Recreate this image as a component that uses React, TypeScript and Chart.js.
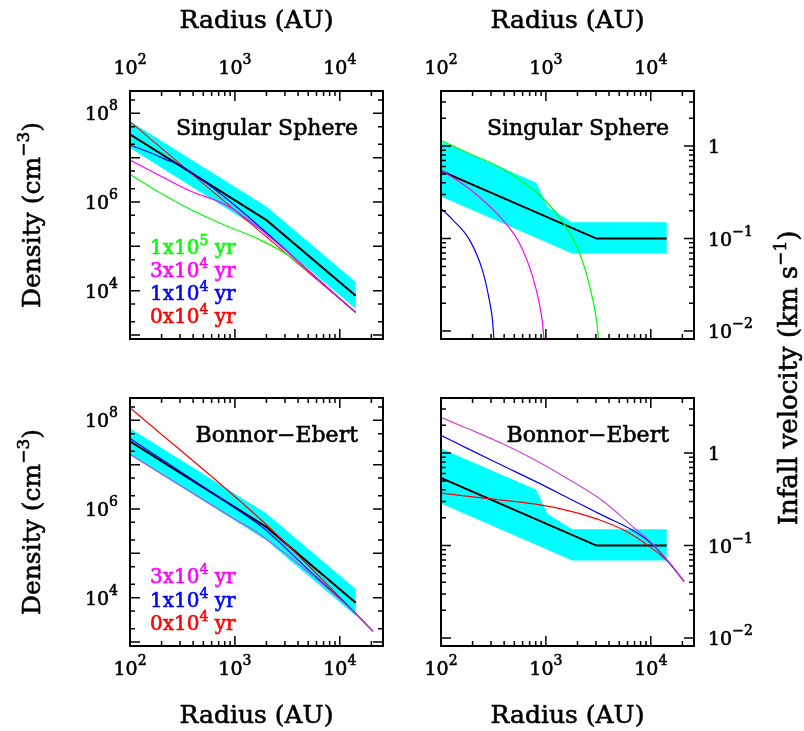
import React, { useEffect, useRef } from 'react';
import { Chart, registerables } from 'chart.js';
Chart.register(...registerables);

// ---------- axes ----------
const radiusMin = 100;
const radiusMax = 25820;
const densityMin = 815;
const densityMax = 3.18e8;
const velocityMin = 0.0082;
const velocityMax = 3.94;

const radiusTicks = [100, 200, 300, 400, 500, 600, 700, 800, 900, 1000, 2000, 3000, 4000, 5000, 6000, 7000, 8000, 9000, 10000, 20000];
const radiusTickLabels: [number, string, string][] = [[100, '10', '2'], [1000, '10', '3'], [10000, '10', '4']];
const densityTicks = [1e3, 2e3, 5e3, 1e4, 2e4, 5e4, 1e5, 2e5, 5e5, 1e6, 2e6, 5e6, 1e7, 2e7, 5e7, 1e8, 2e8];
const densityTickLabels: [number, string, string][] = [[1e4, '10', '4'], [1e6, '10', '6'], [1e8, '10', '8']];
const velocityTicks = [0.01, 0.02, 0.03, 0.04, 0.05, 0.06, 0.07, 0.08, 0.09, 0.1, 0.2, 0.3, 0.4, 0.5, 0.6, 0.7, 0.8, 0.9, 1, 2, 3];
const velocityTickLabels: [number, string, string][] = [[0.01, '10', '\u22122'], [0.1, '10', '\u22121'], [1, '1', '']];

// ---------- observed (black line + cyan range) ----------
const obsDensityRadius = [100, 2000, 14200];
const obsDensity = [3.35e7, 3.9e5, 7.7e3];
const obsDensityHigh = [6.6e7, 7.9e5, 1.58e4];
const obsDensityLow = [1.65e7, 1.95e5, 3.9e3];

const obsVelocityRadius = [100, 3040, 14200];
const obsVelocity = [0.54, 0.1, 0.1];
const obsVelocityHighRadius = [100, 810, 1040, 1780, 14200];
const obsVelocityHigh = [1.12, 0.40, 0.22, 0.15, 0.15];
const obsVelocityLowRadius = [100, 1780, 14200];
const obsVelocityLow = [0.285, 0.069, 0.069];

// ---------- Singular sphere: density ----------
const sisDensRadius0 = [100, 14200];
const sisDens0 = [6.5e7, 3.25e3];
const sisDensRadius1 = [100, 150, 210, 330, 14200];
const sisDens1 = [1.93e7, 1.34e7, 9.5e6, 5.9e6, 3.25e3];
const sisDensRadius3 = [100, 186, 386, 700, 1000, 14200];
const sisDens3 = [8.8e6, 4.1e6, 1.72e6, 1.02e6, 6.5e5, 3.25e3];
const sisDensRadius10 = [100, 186, 386, 803, 1667, 3220, 14200];
const sisDens10 = [4.2e6, 1.7e6, 6.6e5, 3.0e5, 1.46e5, 6.3e4, 3.25e3];

// ---------- Singular sphere: infall velocity ----------
const sisVelRadius1 = [100, 129, 186, 249, 288, 310, 321];
const sisVel1 = [0.212, 0.16, 0.098, 0.045, 0.022, 0.013, 0.0075];
const sisVelRadius3 = [100, 186, 386, 557, 746, 864, 930, 964];
const sisVel3 = [0.55, 0.345, 0.16, 0.09, 0.039, 0.02, 0.012, 0.0075];
const sisVelRadius10 = [100, 186, 386, 803, 1014, 1462, 2109, 2624, 3042, 3200];
const sisVel10 = [1.15, 0.83, 0.57, 0.32, 0.25, 0.149, 0.068, 0.03, 0.013, 0.0075];

// ---------- Bonnor-Ebert: density ----------
const beDensRadius0 = [100, 2000, 14200, 20750];
const beDens0 = [1.93e8, 4.4e5, 4.4e3, 1.74e3];
const beDensRadius1 = [100, 1000, 1930, 5000, 14200, 20750];
const beDens1 = [3.86e7, 1.05e6, 3.5e5, 4.3e4, 4.35e3, 1.74e3];
const beDensRadius3 = [100, 1000, 1700, 14200, 20750];
const beDens3 = [1.71e7, 5.9e5, 2.75e5, 4.35e3, 1.74e3];

// ---------- Bonnor-Ebert: infall velocity ----------
const beVelRadius0 = [100, 268, 803, 1667, 3467, 6220, 9640, 14970, 20750];
const beVel0 = [0.369, 0.323, 0.28, 0.237, 0.184, 0.137, 0.098, 0.065, 0.041];
const beVelRadius1 = [100, 186, 386, 803, 1667, 3467, 7194, 10370, 14970, 20750];
const beVel1 = [1.56, 1.096, 0.733, 0.491, 0.323, 0.212, 0.14, 0.1025, 0.065, 0.041];
const beVelRadius3 = [100, 186, 386, 803, 1667, 3467, 7194, 10370, 14970, 20750];
const beVel3 = [2.43, 1.81, 1.26, 0.832, 0.516, 0.305, 0.15, 0.105, 0.066, 0.041];

const FONT = '"DejaVu Serif", serif';
const CYAN = '#00ffff';
const GREEN = '#00ff00';
const MAGENTA = '#ff00ff';
const PURPLE = '#c846d2';
const BLUE = '#0000ff';
const RED = '#ff0000';

const pts = (xs: number[], ys: number[]) => xs.map((x, i) => ({ x, y: ys[i] }));

type Part = { t: string; sup?: boolean };

function drawParts(ctx: CanvasRenderingContext2D, parts: Part[], x: number, y: number, align: string, size: number, supSize: number, rise: number, color: string) {
  let total = 0;
  const widths = parts.map((p) => {
    ctx.font = `${p.sup ? supSize : size}px ${FONT}`;
    const w = ctx.measureText(p.t).width;
    total += w;
    return w;
  });
  let cx = align === 'left' ? x : align === 'right' ? x - total : x - total / 2;
  ctx.fillStyle = color;
  ctx.strokeStyle = color;
  ctx.lineWidth = 0.6;
  ctx.lineJoin = 'round';
  ctx.textBaseline = 'alphabetic';
  ctx.textAlign = 'left';
  parts.forEach((p, i) => {
    ctx.font = `${p.sup ? supSize : size}px ${FONT}`;
    const yy = p.sup ? y - rise : y;
    ctx.fillText(p.t, cx, yy);
    ctx.strokeText(p.t, cx, yy);
    cx += widths[i];
  });
}

const isDecade = (v: number) => Math.abs(Math.log10(v) - Math.round(Math.log10(v))) < 1e-6;

type Panel = {
  pad: { left: number; right: number; top: number; bottom: number };
  yMin: number; yMax: number;
  yTicks: number[];
  yTickLabels: [number, string, string][];
  yLabelSide: 'left' | 'right';
  xLabelSide: 'top' | 'bottom';
  name: string;
  legend: { parts: Part[]; color: string }[];
  legendBaseline: number[];
  densityTitle: boolean;
  velocityTitle: boolean;
  datasets: any[];
};

function band(hiR: number[], hi: number[], loR: number[], lo: number[]) {
  return {
    data: [...pts(hiR, hi), ...pts(loR, lo).reverse()],
    borderColor: 'rgba(0,0,0,0)', borderWidth: 0, backgroundColor: CYAN,
    fill: 'shape', pointRadius: 0, tension: 0, order: 10,
  };
}
function black(r: number[], v: number[]) {
  return { data: pts(r, v), borderColor: '#000', borderWidth: 2, pointRadius: 0, tension: 0, fill: false, order: 5 };
}
function model(r: number[], v: number[], color: string, order: number) {
  return { data: pts(r, v), borderColor: color, borderWidth: 1.2, pointRadius: 0, fill: false, cubicInterpolationMode: 'monotone', order };
}

const legendSIS = [
  { parts: [{ t: '1x10' }, { t: '5', sup: true }, { t: ' yr' }], color: GREEN },
  { parts: [{ t: '3x10' }, { t: '4', sup: true }, { t: ' yr' }], color: MAGENTA },
  { parts: [{ t: '1x10' }, { t: '4', sup: true }, { t: ' yr' }], color: BLUE },
  { parts: [{ t: '0x10' }, { t: '4', sup: true }, { t: ' yr' }], color: RED },
];
const legendBE = [
  { parts: [{ t: '3x10' }, { t: '4', sup: true }, { t: ' yr' }], color: MAGENTA },
  { parts: [{ t: '1x10' }, { t: '4', sup: true }, { t: ' yr' }], color: BLUE },
  { parts: [{ t: '0x10' }, { t: '4', sup: true }, { t: ' yr' }], color: RED },
];

const PANELS: Panel[] = [
  {
    pad: { left: 130, right: 421, top: 91, bottom: 392 },
    yMin: densityMin, yMax: densityMax, yTicks: densityTicks, yTickLabels: densityTickLabels,
    yLabelSide: 'left', xLabelSide: 'top', name: 'Singular Sphere',
    legend: legendSIS, legendBaseline: [254, 277, 300, 323], densityTitle: true, velocityTitle: false,
    datasets: [
      band(obsDensityRadius, obsDensityHigh, obsDensityRadius, obsDensityLow),
      black(obsDensityRadius, obsDensity),
      model(sisDensRadius0, sisDens0, RED, 4),
      model(sisDensRadius10, sisDens10, GREEN, 3),
      model(sisDensRadius1, sisDens1, BLUE, 2),
      model(sisDensRadius3, sisDens3, MAGENTA, 1),
    ],
  },
  {
    pad: { left: 441, right: 110, top: 91, bottom: 392 },
    yMin: velocityMin, yMax: velocityMax, yTicks: velocityTicks, yTickLabels: velocityTickLabels,
    yLabelSide: 'right', xLabelSide: 'top', name: 'Singular Sphere',
    legend: [], legendBaseline: [], densityTitle: false, velocityTitle: true,
    datasets: [
      band(obsVelocityHighRadius, obsVelocityHigh, obsVelocityLowRadius, obsVelocityLow),
      black(obsVelocityRadius, obsVelocity),
      model(sisVelRadius10, sisVel10, GREEN, 3),
      model(sisVelRadius1, sisVel1, BLUE, 2),
      model(sisVelRadius3, sisVel3, MAGENTA, 1),
    ],
  },
  {
    pad: { left: 130, right: 421, top: 398, bottom: 85 },
    yMin: densityMin, yMax: densityMax, yTicks: densityTicks, yTickLabels: densityTickLabels,
    yLabelSide: 'left', xLabelSide: 'bottom', name: 'Bonnor\u2212Ebert',
    legend: legendBE, legendBaseline: [583, 607, 630], densityTitle: true, velocityTitle: false,
    datasets: [
      band(obsDensityRadius, obsDensityHigh, obsDensityRadius, obsDensityLow),
      black(obsDensityRadius, obsDensity),
      model(beDensRadius0, beDens0, RED, 4),
      model(beDensRadius1, beDens1, BLUE, 2),
      model(beDensRadius3, beDens3, PURPLE, 1),
    ],
  },
  {
    pad: { left: 441, right: 110, top: 398, bottom: 85 },
    yMin: velocityMin, yMax: velocityMax, yTicks: velocityTicks, yTickLabels: velocityTickLabels,
    yLabelSide: 'right', xLabelSide: 'bottom', name: 'Bonnor\u2212Ebert',
    legend: [], legendBaseline: [], densityTitle: false, velocityTitle: false,
    datasets: [
      band(obsVelocityHighRadius, obsVelocityHigh, obsVelocityLowRadius, obsVelocityLow),
      black(obsVelocityRadius, obsVelocity),
      model(beVelRadius0, beVel0, RED, 4),
      model(beVelRadius1, beVel1, BLUE, 2),
      model(beVelRadius3, beVel3, PURPLE, 1),
    ],
  },
];

function decorPlugin(p: Panel) {
  return {
    id: 'panelDecor',
    afterDraw(chart: any) {
      const ctx: CanvasRenderingContext2D = chart.ctx;
      const a = chart.chartArea;
      const xs = chart.scales.x;
      const ys = chart.scales.y;
      ctx.save();
      // ticks
      ctx.strokeStyle = '#000';
      ctx.lineWidth = 1.5;
      ctx.beginPath();
      radiusTicks.forEach((v) => {
        const px = xs.getPixelForValue(v);
        if (px < a.left - 0.5 || px > a.right + 0.5) return;
        const len = isDecade(v) ? 10 : 5;
        ctx.moveTo(px, a.top); ctx.lineTo(px, a.top + len);
        ctx.moveTo(px, a.bottom); ctx.lineTo(px, a.bottom - len);
      });
      p.yTicks.forEach((v) => {
        const py = ys.getPixelForValue(v);
        if (py < a.top - 0.5 || py > a.bottom + 0.5) return;
        const len = isDecade(v) ? 10 : 5;
        ctx.moveTo(a.left, py); ctx.lineTo(a.left + len, py);
        ctx.moveTo(a.right, py); ctx.lineTo(a.right - len, py);
      });
      ctx.stroke();
      // frame
      ctx.lineWidth = 2;
      ctx.strokeRect(a.left, a.top, a.right - a.left, a.bottom - a.top);

      // x tick labels + title
      const cxMid = (a.left + a.right) / 2;
      radiusTickLabels.forEach(([v, b, e]) => {
        const px = xs.getPixelForValue(v);
        const y = p.xLabelSide === 'top' ? a.top - 17 : a.bottom + 29;
        drawParts(ctx, [{ t: b }, { t: e, sup: true }], px, y, 'center', 19, 14, 10, '#000');
      });
      const titleY = p.xLabelSide === 'top' ? a.top - 63 : a.bottom + 77;
      drawParts(ctx, [{ t: 'Radius (AU)' }], cxMid, titleY, 'center', 25, 16, 10, '#000');

      // y tick labels
      p.yTickLabels.forEach(([v, b, e]) => {
        const py = ys.getPixelForValue(v);
        const parts: Part[] = e ? [{ t: b }, { t: e, sup: true }] : [{ t: b }];
        if (p.yLabelSide === 'left') drawParts(ctx, parts, a.left - 12, py + 7, 'right', 19, 14, 10, '#000');
        else drawParts(ctx, parts, a.right + 14, py + 7, 'left', 19, 14, 10, '#000');
      });

      // panel name
      drawParts(ctx, [{ t: p.name }], a.right - 25, a.top + 44, 'right', 22, 14, 10, '#000');

      // legend
      p.legend.forEach((l, i) => {
        drawParts(ctx, l.parts, a.left + 20, p.legendBaseline[i], 'left', 20, 14, 9, l.color);
      });

      // axis titles
      if (p.densityTitle) {
        ctx.save();
        ctx.translate(40, (a.top + a.bottom) / 2);
        ctx.rotate(-Math.PI / 2);
        drawParts(ctx, [{ t: 'Density (cm' }, { t: '\u22123', sup: true }, { t: ')' }], 0, 0, 'center', 25, 17, 11, '#000');
        ctx.restore();
      }
      if (p.velocityTitle) {
        ctx.save();
        ctx.translate(797, 378);
        ctx.rotate(-Math.PI / 2);
        drawParts(ctx, [{ t: 'Infall velocity (km s' }, { t: '\u22121', sup: true }, { t: ')' }], 0, 0, 'center', 26, 17, 11, '#000');
        ctx.restore();
      }
      ctx.restore();
    },
  };
}

function buildConfig(p: Panel): any {
  return {
    type: 'line',
    data: { datasets: p.datasets },
    options: {
      responsive: false,
      animation: false,
      devicePixelRatio: 1,
      events: [],
      layout: { padding: p.pad },
      plugins: { legend: { display: false }, tooltip: { enabled: false }, title: { display: false } },
      scales: {
        x: { type: 'logarithmic', min: radiusMin, max: radiusMax, display: false },
        y: { type: 'logarithmic', min: p.yMin, max: p.yMax, display: false },
      },
    },
    plugins: [decorPlugin(p)],
  };
}

export default function App() {
  const refs = useRef<(HTMLCanvasElement | null)[]>([]);
  useEffect(() => {
    const charts = PANELS.map((p, i) => new Chart(refs.current[i] as HTMLCanvasElement, buildConfig(p)));
    return () => charts.forEach((c) => c.destroy());
  }, []);
  return (
    <div style={{ position: 'absolute', left: 0, top: 0, width: 804, height: 731, background: '#fff' }}>
      {PANELS.map((_, i) => (
        <canvas
          key={i}
          ref={(el) => { refs.current[i] = el; }}
          width={804}
          height={731}
          style={{ position: 'absolute', left: 0, top: 0 }}
        />
      ))}
    </div>
  );
}
